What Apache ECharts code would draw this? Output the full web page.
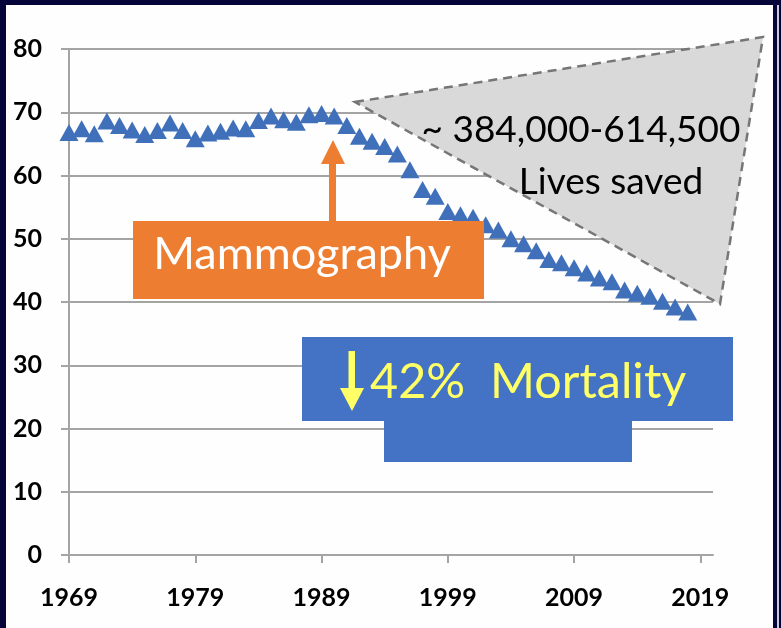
<!DOCTYPE html>
<html>
<head>
<meta charset="utf-8">
<script src="https://cdn.jsdelivr.net/npm/echarts@6/dist/echarts.min.js"></script>
<style>
  html, body { margin: 0; padding: 0; background: #05053a; }
  #frame { position: relative; width: 781px; height: 628px; overflow: hidden; background: #05053a; }
  #panel { position: absolute; left: 6px; top: 5px; width: 767px; height: 623px; background: #fefefe; }
  #edge { position: absolute; left: 777px; top: 5px; width: 2px; height: 623px; background: #c9cadb; }
  #chart { position: absolute; left: 0; top: 0; width: 781px; height: 628px; }
</style>
</head>
<body>
<div id="frame">
  <div id="panel"></div>
  <div id="edge"></div>
  <div id="chart"></div>
</div>
<script>
// years on the x axis (last one is only there to leave room at the end)
var years = ['1969', '1970', '1971', '1972', '1973', '1974', '1975', '1976', '1977', '1978',
             '1979', '1980', '1981', '1982', '1983', '1984', '1985', '1986', '1987', '1988',
             '1989', '1990', '1991', '1992', '1993', '1994', '1995', '1996', '1997', '1998',
             '1999', '2000', '2001', '2002', '2003', '2004', '2005', '2006', '2007', '2008',
             '2009', '2010', '2011', '2012', '2013', '2014', '2015', '2016', '2017', '2018',
             '2019', '2020'];

// breast cancer mortality, 1969 - 2018
var mortality = [66.8, 67.4, 66.6, 68.6, 67.9, 67.2, 66.5, 67.1, 68.3, 67.1,
                 65.8, 66.7, 67.0, 67.5, 67.4, 68.7, 69.4, 68.8, 68.4, 69.6,
                 69.8, 69.4, 67.9, 66.2, 65.4, 64.6, 63.4, 60.9, 57.8, 56.7,
                 54.3, 53.8, 53.4, 52.2, 51.4, 50.0, 49.2, 48.1, 46.7, 46.2,
                 45.4, 44.6, 43.8, 43.2, 41.9, 41.4, 40.9, 40.1, 39.2, 38.4];

var livesLine1 = '~ 384,000-614,500';
var livesLine2 = 'Lives saved';
var boxText = 'Mammography';
var dropText = '42%  Mortality';

var chart = echarts.init(document.getElementById('chart'));

var gridColor = '#a4a4a4';

var option = {
    animation: false,
    grid: {
        left: 69,
        right: 68,
        top: 49,
        bottom: 73
    },
    xAxis: {
        type: 'category',
        data: years,
        boundaryGap: false,
        axisLine: { lineStyle: { color: gridColor, width: 2 } },
        axisTick: { interval: 9, length: 8, lineStyle: { color: gridColor, width: 2 } },
        axisLabel: {
            interval: 9,
            margin: 30,
            color: '#000',
            fontFamily: 'Lato',
            fontWeight: 'bold',
            fontSize: 25
        },
        splitLine: { show: false }
    },
    yAxis: {
        type: 'value',
        min: 0,
        max: 80,
        interval: 10,
        axisLine: { show: true, lineStyle: { color: gridColor, width: 2 } },
        axisTick: { show: true, length: 8, lineStyle: { color: gridColor, width: 2 } },
        axisLabel: {
            margin: 27,
            color: '#000',
            fontFamily: 'Lato',
            fontWeight: 'bold',
            fontSize: 25
        },
        splitLine: { lineStyle: { color: gridColor, width: 2 } }
    },
    series: [{
        type: 'scatter',
        data: mortality,
        symbol: 'triangle',
        symbolSize: [19, 17],
        itemStyle: { color: '#4170bb', opacity: 1 }
    }],
    graphic: [
        // lives saved wedge
        {
            type: 'polygon', z: 100,
            shape: { points: [[355, 102], [763, 37], [720, 304]] },
            style: { fill: '#d9d9d9', stroke: '#767676', lineWidth: 2.5, lineDash: [9, 6] }
        },
        {
            type: 'text', z: 101, x: 581, y: 130,
            style: { text: livesLine1, fill: '#000', font: '37px Lato', align: 'center', verticalAlign: 'middle' }
        },
        {
            type: 'text', z: 101, x: 611, y: 182,
            style: { text: livesLine2, fill: '#000', font: '37px Lato', align: 'center', verticalAlign: 'middle' }
        },
        // mammography arrow + box
        {
            type: 'rect', z: 100,
            shape: { x: 329, y: 160, width: 7, height: 62 },
            style: { fill: '#ed7d31' }
        },
        {
            type: 'polygon', z: 100,
            shape: { points: [[333, 140], [321, 164], [345, 164]] },
            style: { fill: '#ed7d31' }
        },
        {
            type: 'rect', z: 100,
            shape: { x: 133, y: 221, width: 351, height: 78 },
            style: { fill: '#ed7d31' }
        },
        {
            type: 'text', z: 101, x: 302, y: 254,
            style: { text: boxText, fill: '#fff', font: '45px Lato', align: 'center', verticalAlign: 'middle' }
        },
        // mortality box
        {
            type: 'rect', z: 100,
            shape: { x: 302, y: 337, width: 431, height: 84 },
            style: { fill: '#4472c4' }
        },
        {
            type: 'rect', z: 100,
            shape: { x: 384, y: 420, width: 248, height: 42 },
            style: { fill: '#4472c4' }
        },
        {
            type: 'rect', z: 101,
            shape: { x: 348.5, y: 351, width: 6.5, height: 38 },
            style: { fill: '#ffff66' }
        },
        {
            type: 'polygon', z: 101,
            shape: { points: [[340, 388], [364, 388], [352, 411]] },
            style: { fill: '#ffff66' }
        },
        {
            type: 'text', z: 101, x: 370, y: 382,
            style: { text: dropText, fill: '#ffff66', font: '48.5px Lato', align: 'left', verticalAlign: 'middle' }
        }
    ]
};

chart.setOption(option);
</script>
</body>
</html>
